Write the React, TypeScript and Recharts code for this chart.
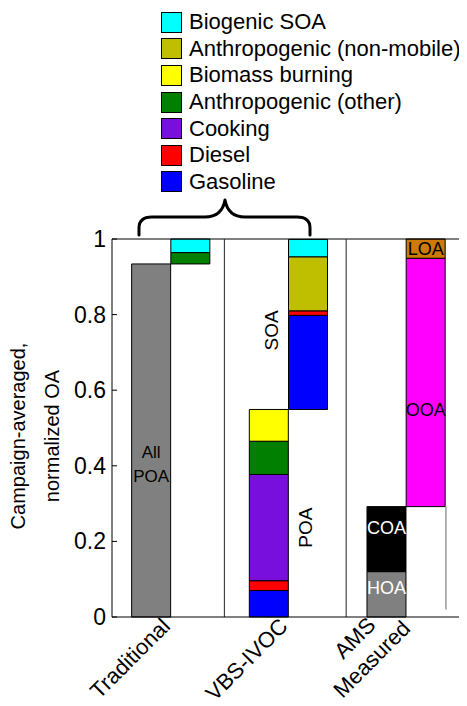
import React from 'react';
import {
    BarChart, Bar, XAxis, YAxis, ReferenceLine, Legend, LabelList, Customized
} from 'recharts';

// bar positions on the x axis (two bars per group, groups at 1, 2, 3)
const barPositions = [0.8335, 1.1665, 1.8335, 2.1665, 2.8335, 3.1665];
const groupLabels = [['Traditional'], ['VBS-IVOC'], ['AMS', 'Measured']];
const yTicks = [0, 0.2, 0.4, 0.6, 0.8, 1];

// normalized OA contributions, one value per bar
const allPOA = [0.934, 0, 0, 0, 0, 0];
const gasoline = [0, 0, 0.07, 0.249, 0, 0];
const diesel = [0, 0, 0.026, 0.012, 0, 0];
const cooking = [0, 0, 0.281, 0, 0, 0];
const anthOther = [0, 0.03, 0.088, 0, 0, 0];
const biomass = [0, 0, 0.084, 0, 0, 0];
const anthNonMobile = [0, 0, 0, 0.143, 0, 0];
const biogenic = [0, 0.036, 0, 0.046, 0, 0];
const hoa = [0, 0, 0, 0, 0.12, 0];
const coa = [0, 0, 0, 0, 0.172, 0];
const ooa = [0, 0, 0, 0, 0, 0.657];
const loa = [0, 0, 0, 0, 0, 0.051];

// text written on (or next to) a segment: series, bar index, text
const segmentNotes: [string, number, string][] = [
    ['allPOA', 0, 'All POA'],
    ['gasoline', 3, 'SOA'],
    ['cooking', 2, 'POA'],
    ['hoa', 4, 'HOA'],
    ['coa', 4, 'COA'],
    ['ooa', 5, 'OOA'],
    ['loa', 5, 'LOA'],
];

// separators between the groups and the odd thin line in the AMS group
const groupSeparators = [1.455, 2.49];
const amsLine = { x: 3.338, from: 0.02, to: 0.292 };

const legendKeys = ['biogenic', 'anthNonMobile', 'biomass', 'anthOther', 'cooking', 'diesel', 'gasoline'];
const legendNames = ['Biogenic SOA', 'Anthropogenic (non-mobile)', 'Biomass burning', 'Anthropogenic (other)', 'Cooking', 'Diesel', 'Gasoline'];

const colors: Record<string, string> = {
    allPOA: '#808080',
    gasoline: '#0000FF',
    diesel: '#FF0000',
    cooking: '#790FDD',
    anthOther: '#007F00',
    biomass: '#FFFF00',
    anthNonMobile: '#BFBF00',
    biogenic: '#00FFFF',
    hoa: '#808080',
    coa: '#000000',
    ooa: '#FF00FF',
    loa: '#CC7A00',
};

const series: Record<string, number[]> = {
    allPOA, gasoline, diesel, cooking, anthOther, biomass, anthNonMobile, biogenic, hoa, coa, ooa, loa,
};
const stackOrder = ['allPOA', 'gasoline', 'diesel', 'cooking', 'anthOther', 'biomass', 'anthNonMobile', 'biogenic', 'hoa', 'coa', 'ooa', 'loa'];

// the second bar of each group floats on top of the first bar's total
const barTotal = (i: number) => stackOrder.reduce((s, k) => s + series[k][i], 0);

const data = barPositions.map((pos, i) => {
    const row: Record<string, number | string> = { pos, base: i % 2 === 1 ? barTotal(i - 1) : 0 };
    stackOrder.forEach(k => { row[k] = series[k][i]; });
    segmentNotes.forEach(([k, bar, text]) => { if (bar === i) row[`${k}Note`] = text; });
    return row;
});

const FONT = '"Liberation Sans", Arial, Helvetica, sans-serif';

const rectOf = (p: any) => {
    const vb = p.viewBox ?? p;
    const h = Math.abs(vb.height);
    const y = Math.min(vb.y, vb.y + vb.height);
    return { x: vb.x, y, w: vb.width, h, cx: vb.x + vb.width / 2, cy: y + h / 2 };
};

const noteLabel = (k: string) => (p: any) => {
    if (!p.value) return null;
    const r = rectOf(p);
    const text = String(p.value);
    const plain = (dy: number, fill: string) => (
        <text x={r.cx} y={r.cy + dy} fontSize={18} textAnchor="middle" dominantBaseline="central" fill={fill}>{text}</text>
    );
    const rotated = (x: number, y: number) => (
        <text transform={`translate(${x}, ${y}) rotate(-90)`} fontSize={19}
            textAnchor="middle" dominantBaseline="central" fill="#000">{text}</text>
    );
    switch (k) {
        case 'allPOA': {
            const [a, b] = text.split(' ');
            return (
                <text fontSize={17} textAnchor="middle" dominantBaseline="central" fill="#000">
                    <tspan x={r.cx} y={r.cy + 11.5}>{a}</tspan>
                    <tspan x={r.cx} y={r.cy + 35.5}>{b}</tspan>
                </text>
            );
        }
        case 'gasoline': return rotated(r.x - 17, r.cy - 32);
        case 'cooking': return rotated(r.x + r.w + 17, r.cy);
        case 'hoa': return plain(-6, '#fff');
        case 'coa': return plain(-11, '#fff');
        case 'ooa': return plain(27.5, '#000');
        default: return plain(0.6, '#000');
    }
};

const YTick = ({ x, y, payload }: any) => (
    <g>
        <line x1={x} x2={x + 5} y1={y} y2={y} stroke="#000" />
        <text x={x - 6} y={y} textAnchor="end" dominantBaseline="central" fontSize={23} fill="#000">
            {payload.value}
        </text>
    </g>
);

const XTick = ({ x, y, payload }: any) => {
    const lines = groupLabels[Math.round(payload.value) - 1] || [];
    return (
        <g transform={`translate(${x + 0.6}, ${y + 10.6}) rotate(-45)`} fontSize={22} fill="#000">
            {lines.length === 1 ? (
                <text x={0} y={0} textAnchor="end">{lines[0]}</text>
            ) : (
                <>
                    <text x={-44} y={-22} textAnchor="middle">{lines[0]}</text>
                    <text x={2} y={5} textAnchor="end">{lines[1]}</text>
                </>
            )}
        </g>
    );
};

const YAxisTitle = (props: any) => {
    const vb = props.viewBox || { x: 0, y: 231, width: 104, height: 378 };
    const cy = vb.y + vb.height / 2 + 8;
    return (
        <g fontSize={20} fill="#000">
            <text transform={`translate(${vb.x + 17}, ${cy}) rotate(-90)`} textAnchor="middle">Campaign-averaged,</text>
            <text transform={`translate(${vb.x + 51}, ${cy}) rotate(-90)`} textAnchor="middle">normalized OA</text>
        </g>
    );
};

const LegendBox = () => (
    <div style={{ fontFamily: FONT, fontSize: 22, color: '#000' }}>
        {legendKeys.map((k, i) => (
            <div key={k} style={{ display: 'flex', alignItems: 'center', height: 26.6, whiteSpace: 'nowrap' }}>
                <span style={{
                    display: 'inline-block', width: 19, height: 19, background: colors[k],
                    border: '1px solid #000', marginRight: 7,
                }} />
                <span>{legendNames[i]}</span>
            </div>
        ))}
    </div>
);

// curly brace over the "Traditional" / "VBS-IVOC" groups
const Brace = () => (
    <path
        d="M131,227 L131,220 Q131,209 144,209 L197,209 Q214,209 217,192 Q220,209 237,209 L289,209 Q302,209 302,220 L302,227"
        fill="none" stroke="#000" strokeWidth={3} strokeLinecap="round" strokeLinejoin="round"
    />
);

export default function App() {
    return (
        <div style={{ width: 459, height: 698, fontFamily: FONT }}>
            <BarChart
                width={459}
                height={698}
                data={data}
                margin={{ top: 231, right: 2, bottom: 0, left: 0 }}
            >
                <XAxis
                    type="number"
                    dataKey="pos"
                    domain={[0.5, 3.5]}
                    ticks={[1, 2, 3]}
                    height={89}
                    tickLine={false}
                    tickSize={0}
                    tickMargin={0}
                    axisLine={{ stroke: '#000' }}
                    tick={<XTick />}
                    interval={0}
                />
                <YAxis
                    type="number"
                    domain={[0, 1]}
                    ticks={yTicks}
                    width={104}
                    tickLine={false}
                    tickSize={0}
                    tickMargin={0}
                    axisLine={{ stroke: '#000' }}
                    tick={<YTick />}
                    label={<YAxisTitle />}
                />
                <ReferenceLine y={1} stroke="#000" />
                <ReferenceLine x={3.5} stroke="#000" />
                {groupSeparators.map(s => (
                    <ReferenceLine key={s} x={s} stroke="#222" />
                ))}
                <ReferenceLine
                    segment={[{ x: amsLine.x, y: amsLine.from }, { x: amsLine.x, y: amsLine.to }]}
                    stroke="#666"
                />
                <Bar dataKey="base" stackId="a" fill="none" stroke="none" barSize={39} isAnimationActive={false} />
                {stackOrder.map(k => (
                    <Bar
                        key={k}
                        dataKey={k}
                        stackId="a"
                        fill={colors[k]}
                        stroke="#000"
                        strokeWidth={1}
                        barSize={39}
                        isAnimationActive={false}
                    >
                        {segmentNotes.some(n => n[0] === k) && (
                            <LabelList dataKey={`${k}Note`} content={noteLabel(k)} />
                        )}
                    </Bar>
                ))}
                <Legend
                    layout="vertical"
                    align="center"
                    verticalAlign="middle"
                    wrapperStyle={{ top: 1, left: 153, width: 306 }}
                    content={<LegendBox />}
                />
                <Customized component={Brace} />
            </BarChart>
        </div>
    );
}
